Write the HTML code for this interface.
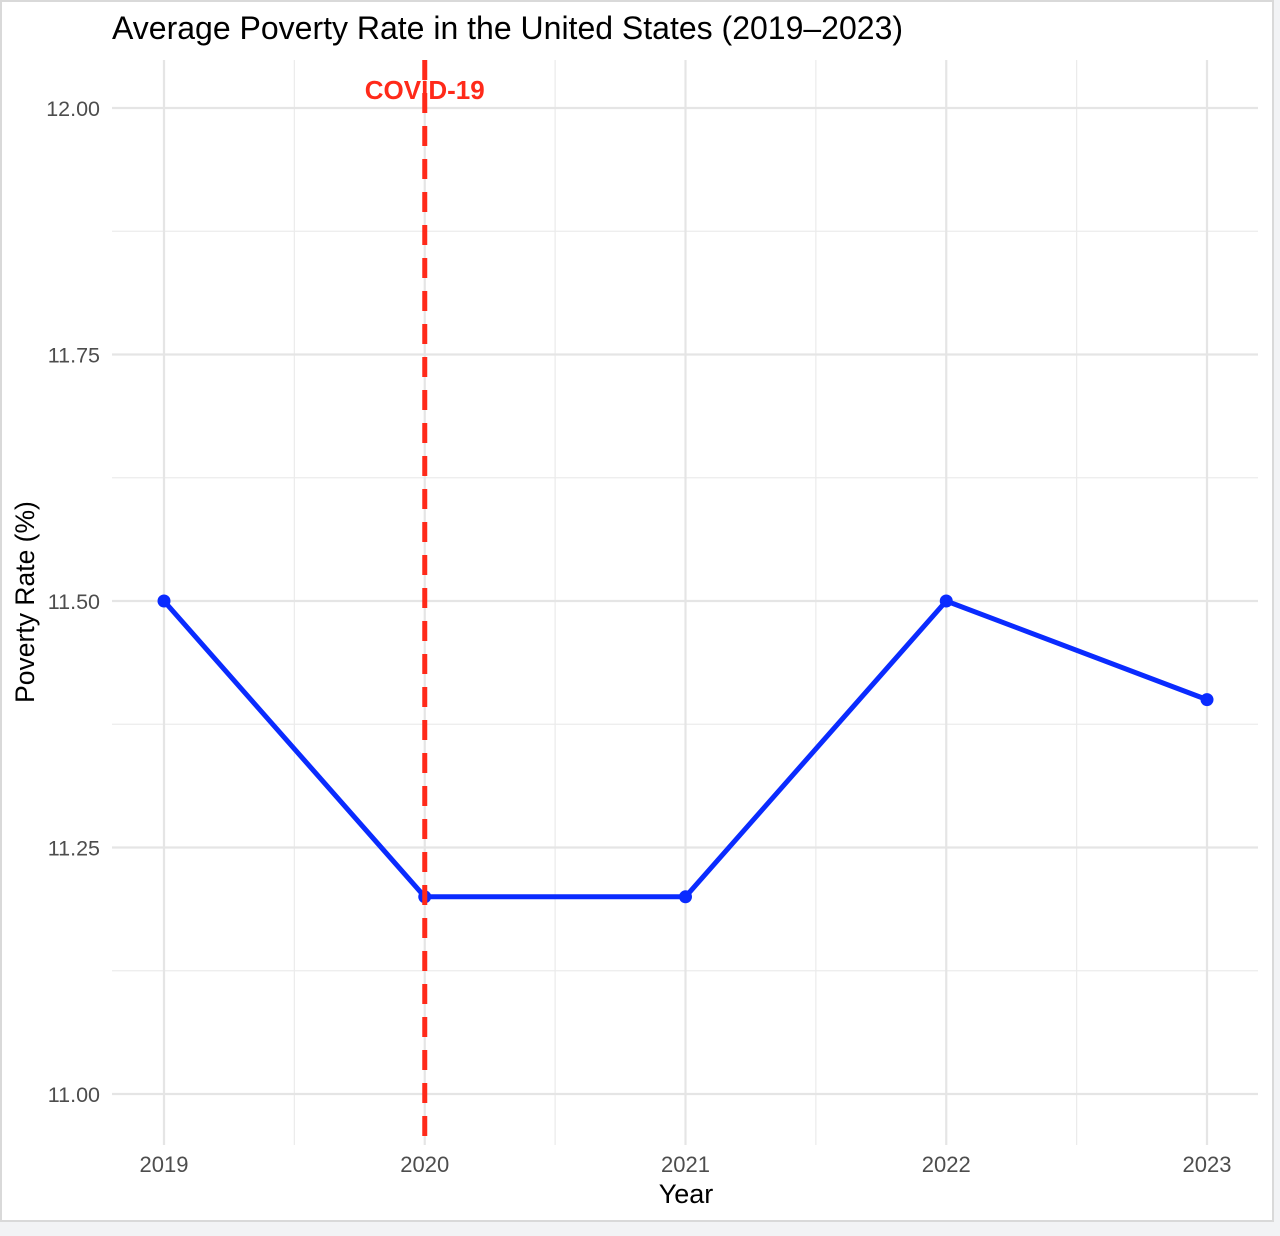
<!DOCTYPE html>
<html><head><meta charset="utf-8"><style>
body{margin:0;background:#f2f3f5;}
svg{display:block;font-family:"Liberation Sans",Arial,sans-serif;}
</style></head><body>
<svg id="chart" width="1280" height="1236">
<rect x="1" y="1" width="1272" height="1220" fill="#fff" stroke="#d9d9d9" stroke-width="2"/>
<text x="112" y="39" font-size="32" fill="#000">Average Poverty Rate in the United States (2019–2023)</text>
<g id="grid"></g>
<g id="marks"></g>
<text x="686" y="1203" font-size="27" text-anchor="middle" fill="#000">Year</text>
<text transform="translate(34,602) rotate(-90)" font-size="26.5" text-anchor="middle" fill="#000">Poverty Rate (%)</text>
</svg>
<script>
const years=[2019,2020,2021,2022,2023];
const rates=[11.5,11.2,11.2,11.5,11.4];
const yTicks=[11.00,11.25,11.50,11.75,12.00];
const yMinor=[11.125,11.375,11.625,11.875];
const covidYear=2020;
const NS="http://www.w3.org/2000/svg";
const xs=y=>164+(y-2019)*260.75;
const ys=v=>1094-(v-11)*986;
const L=112,R=1258,T=60,B=1145;
const grid=document.getElementById('grid'),marks=document.getElementById('marks');
function mk(p,tag,a){const e=document.createElementNS(NS,tag);for(const k in a)e.setAttribute(k,a[k]);p.appendChild(e);return e;}
yMinor.forEach(v=>{const e=mk(grid,'line',{x1:L,x2:R,y1:ys(v),y2:ys(v),stroke:'#ebebeb','stroke-width':1.2});

});
for(let i=0;i<years.length-1;i++){const x=(xs(years[i])+xs(years[i+1]))/2;const e=mk(grid,'line',{x1:x,x2:x,y1:T,y2:B,stroke:'#ebebeb','stroke-width':1.2});

}
yTicks.forEach(v=>{const e=mk(grid,'line',{x1:L,x2:R,y1:ys(v),y2:ys(v),stroke:'#e5e5e5','stroke-width':2.2});


const t=mk(grid,'text',{x:100,y:ys(v)+8,'font-size':21.5,'text-anchor':'end',fill:'#4d4d4d'});t.textContent=v.toFixed(2);

});
years.forEach(y=>{const e=mk(grid,'line',{x1:xs(y),x2:xs(y),y1:T,y2:B,stroke:'#e5e5e5','stroke-width':2.2});


const t=mk(grid,'text',{x:xs(y),y:1172,'font-size':22,'text-anchor':'middle',fill:'#4d4d4d'});t.textContent=y;

});
const pts=years.map((y,i)=>xs(y)+','+ys(rates[i])).join(' ');
const pl=mk(marks,'polyline',{points:pts,fill:'none',stroke:'#0a2bff','stroke-width':5,'stroke-linejoin':'round'});


years.forEach((y,i)=>{const c=mk(marks,'circle',{cx:xs(y),cy:ys(rates[i]),r:6.5,fill:'#0a2bff'});

});
const vl=mk(marks,'line',{x1:xs(covidYear),x2:xs(covidYear),y1:T,y2:B,stroke:'#ff2a1a','stroke-width':5,'stroke-dasharray':'20,13'});


const ct=mk(marks,'text',{x:xs(covidYear),y:99,'font-size':26,'font-weight':'bold','text-anchor':'middle',fill:'#ff2a1a'});ct.textContent='COVID-19';


</script>
</body></html>
